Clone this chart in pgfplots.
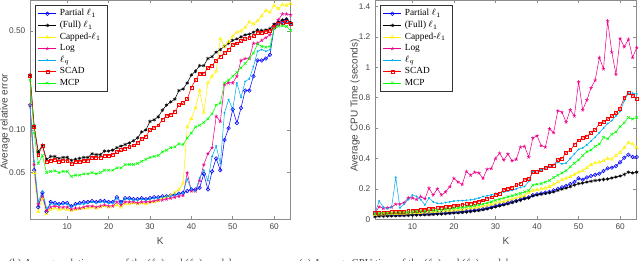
\documentclass[border=0pt]{standalone}
\usepackage{fontspec}
\setmainfont{Liberation Sans}
\newfontfamily\serif{Liberation Serif}
\usepackage{pgfplots}
\pgfplotsset{compat=1.18}
\usepackage{pgfplotstable}

\definecolor{axgray}{RGB}{140,140,140}
\definecolor{labgray}{RGB}{70,70,70}

\pgfplotstableread{
K p f c l q s m
1 0.150 0.245 0.150 0.150 0.150 0.240 0.225
2 0.052 0.107 0.050 0.057 0.060 0.105 0.095
3 0.0285 0.070 0.0265 0.030 0.031 0.067 0.058
4 0.036 0.078 0.033 0.034 0.037 0.077 0.066
5 0.0265 0.062 0.0255 0.027 0.028 0.060 0.050
6 0.031 0.065 0.0275 0.0285 0.030 0.061 0.051
7 0.0305 0.065 0.028 0.029 0.030 0.062 0.0515
8 0.030 0.063 0.0275 0.0285 0.0295 0.060 0.050
9 0.0305 0.064 0.0278 0.0285 0.030 0.061 0.051
10 0.0305 0.064 0.0275 0.0285 0.030 0.061 0.051
11 0.029 0.061 0.027 0.0275 0.0285 0.058 0.047
12 0.030 0.062 0.0275 0.028 0.0295 0.060 0.048
13 0.0305 0.063 0.0278 0.028 0.030 0.060 0.048
14 0.031 0.064 0.028 0.0285 0.030 0.061 0.049
15 0.031 0.064 0.028 0.029 0.0305 0.061 0.049
16 0.0315 0.068 0.0285 0.029 0.031 0.064 0.050
17 0.031 0.067 0.028 0.0285 0.0305 0.064 0.049
18 0.0315 0.067 0.0285 0.029 0.031 0.064 0.050
19 0.0315 0.071 0.029 0.0295 0.031 0.066 0.052
20 0.031 0.071 0.0285 0.029 0.0305 0.066 0.052
21 0.031 0.072 0.029 0.029 0.0305 0.067 0.052
22 0.0335 0.075 0.0295 0.031 0.033 0.070 0.054
23 0.031 0.077 0.0285 0.0295 0.0305 0.072 0.054
24 0.033 0.079 0.030 0.031 0.0325 0.074 0.057
25 0.033 0.081 0.030 0.031 0.0325 0.076 0.057
26 0.0325 0.084 0.0305 0.031 0.032 0.078 0.057
27 0.0325 0.088 0.030 0.0305 0.032 0.081 0.058
28 0.033 0.097 0.0305 0.031 0.0325 0.087 0.060
29 0.0325 0.100 0.030 0.031 0.032 0.090 0.062
30 0.033 0.115 0.031 0.031 0.0325 0.100 0.064
31 0.0335 0.118 0.031 0.0315 0.033 0.104 0.065
32 0.0335 0.124 0.0315 0.032 0.033 0.108 0.066
33 0.034 0.138 0.033 0.032 0.0335 0.118 0.070
34 0.034 0.150 0.0335 0.0325 0.034 0.126 0.072
35 0.0345 0.158 0.0345 0.033 0.034 0.128 0.075
36 0.035 0.165 0.036 0.0335 0.035 0.135 0.076
37 0.0355 0.190 0.038 0.034 0.0355 0.150 0.080
38 0.036 0.195 0.042 0.0345 0.036 0.155 0.079
39 0.037 0.215 0.105 0.050 0.045 0.165 0.088
40 0.038 0.245 0.120 0.037 0.038 0.200 0.095
41 0.038 0.260 0.143 0.037 0.037 0.225 0.105
42 0.039 0.285 0.190 0.044 0.046 0.250 0.108
43 0.049 0.285 0.133 0.057 0.052 0.250 0.113
44 0.038 0.320 0.215 0.068 0.044 0.275 0.120
45 0.051 0.330 0.240 0.075 0.065 0.285 0.130
46 0.063 0.355 0.260 0.125 0.077 0.310 0.150
47 0.052 0.370 0.440 0.115 0.058 0.330 0.155
48 0.085 0.390 0.390 0.210 0.132 0.350 0.215
49 0.103 0.410 0.420 0.215 0.164 0.370 0.225
50 0.140 0.430 0.460 0.215 0.140 0.400 0.240
51 0.112 0.440 0.490 0.240 0.215 0.410 0.255
52 0.143 0.455 0.500 0.310 0.170 0.425 0.275
53 0.190 0.470 0.530 0.320 0.220 0.440 0.295
54 0.190 0.475 0.580 0.320 0.230 0.450 0.320
55 0.240 0.490 0.560 0.410 0.280 0.460 0.350
56 0.310 0.510 0.590 0.410 0.360 0.490 0.405
57 0.310 0.505 0.640 0.430 0.370 0.490 0.390
58 0.320 0.510 0.700 0.450 0.360 0.495 0.385
59 0.340 0.520 0.680 0.470 0.370 0.500 0.390
60 0.530 0.560 0.760 0.540 0.520 0.540 0.520
61 0.560 0.580 0.720 0.600 0.560 0.560 0.540
62 0.580 0.600 0.770 0.660 0.580 0.575 0.545
63 0.600 0.610 0.760 0.660 0.570 0.580 0.540
64 0.570 0.570 0.780 0.650 0.550 0.560 0.505
}\errtab

\pgfplotstableread{
K p f c l q s m
1 0.025 0.018 0.030 0.040 0.040 0.040 0.035
2 0.027 0.020 0.033 0.083 0.120 0.043 0.038
3 0.027 0.020 0.034 0.072 0.080 0.045 0.039
4 0.028 0.021 0.035 0.075 0.070 0.046 0.040
5 0.028 0.022 0.036 0.080 0.080 0.047 0.041
6 0.029 0.023 0.037 0.100 0.275 0.048 0.042
7 0.030 0.024 0.038 0.100 0.075 0.050 0.044
8 0.030 0.025 0.039 0.110 0.100 0.052 0.045
9 0.031 0.026 0.040 0.140 0.130 0.054 0.047
10 0.032 0.027 0.042 0.140 0.160 0.056 0.048
11 0.033 0.028 0.043 0.130 0.150 0.058 0.050
12 0.034 0.029 0.044 0.150 0.130 0.061 0.052
13 0.035 0.030 0.046 0.135 0.095 0.064 0.054
14 0.036 0.031 0.047 0.205 0.140 0.067 0.056
15 0.037 0.032 0.049 0.160 0.115 0.070 0.058
16 0.039 0.034 0.051 0.200 0.105 0.073 0.060
17 0.040 0.035 0.053 0.160 0.105 0.076 0.063
18 0.042 0.037 0.055 0.180 0.110 0.080 0.066
19 0.044 0.039 0.058 0.215 0.115 0.084 0.069
20 0.046 0.041 0.060 0.270 0.120 0.088 0.072
21 0.048 0.043 0.062 0.245 0.122 0.092 0.075
22 0.050 0.045 0.065 0.230 0.123 0.096 0.078
23 0.053 0.048 0.068 0.315 0.125 0.100 0.082
24 0.056 0.051 0.072 0.290 0.128 0.105 0.086
25 0.060 0.055 0.076 0.310 0.132 0.110 0.090
26 0.063 0.058 0.080 0.305 0.140 0.118 0.095
27 0.068 0.063 0.086 0.270 0.150 0.125 0.100
28 0.073 0.068 0.092 0.330 0.155 0.135 0.108
29 0.080 0.075 0.098 0.335 0.160 0.145 0.115
30 0.088 0.082 0.105 0.400 0.170 0.160 0.125
31 0.095 0.088 0.112 0.435 0.175 0.170 0.132
32 0.100 0.095 0.118 0.390 0.180 0.195 0.140
33 0.108 0.102 0.125 0.430 0.185 0.200 0.148
34 0.115 0.110 0.132 0.385 0.190 0.210 0.155
35 0.122 0.118 0.140 0.395 0.200 0.225 0.163
36 0.130 0.125 0.148 0.475 0.210 0.235 0.170
37 0.140 0.135 0.155 0.480 0.215 0.260 0.180
38 0.145 0.140 0.175 0.410 0.250 0.265 0.190
39 0.158 0.155 0.190 0.535 0.315 0.310 0.225
40 0.165 0.160 0.195 0.550 0.320 0.310 0.230
41 0.170 0.165 0.200 0.485 0.325 0.325 0.235
42 0.175 0.170 0.205 0.475 0.335 0.340 0.245
43 0.180 0.175 0.215 0.595 0.345 0.350 0.255
44 0.190 0.180 0.230 0.570 0.360 0.355 0.275
45 0.200 0.190 0.245 0.715 0.375 0.390 0.290
46 0.210 0.198 0.260 0.705 0.365 0.400 0.305
47 0.220 0.205 0.270 0.640 0.370 0.440 0.320
48 0.232 0.215 0.280 0.720 0.400 0.455 0.345
49 0.245 0.225 0.295 0.680 0.430 0.490 0.370
50 0.270 0.235 0.310 0.905 0.460 0.520 0.390
51 0.260 0.238 0.320 0.720 0.470 0.535 0.420
52 0.275 0.245 0.340 0.785 0.490 0.545 0.445
53 0.285 0.250 0.360 0.865 0.515 0.570 0.455
54 0.293 0.255 0.370 0.915 0.540 0.590 0.480
55 0.300 0.258 0.375 1.065 0.570 0.630 0.495
56 0.318 0.262 0.385 0.990 0.600 0.640 0.540
57 0.335 0.265 0.400 1.305 0.630 0.660 0.530
58 0.340 0.272 0.395 1.100 0.650 0.680 0.560
59 0.350 0.278 0.420 0.955 0.680 0.700 0.575
60 0.375 0.285 0.440 1.190 0.710 0.730 0.610
61 0.405 0.295 0.470 1.135 0.780 0.800 0.635
62 0.425 0.310 0.505 1.185 0.830 0.830 0.670
63 0.410 0.305 0.495 1.065 0.830 0.815 0.660
64 0.410 0.310 0.470 1.130 0.825 0.795 0.670
}\cputab

\pgfplotsset{
  mystyle/.style={
    scale only axis,
    anchor=south west,
    width=195.5pt, height=164.5pt,
    xmin=1, xmax=64,
    xtick={10,20,30,40,50,60},
    axis line style={axgray, line width=0.5pt},
    tick style={axgray, line width=0.5pt},
    major tick length=2.6pt,
    tick align=inside,
    xtick pos=both, ytick pos=both,
    tick label style={font=\fontsize{6.2}{7}\selectfont, text=labgray},
    /pgf/number format/assume math mode=true,
    label style={font=\fontsize{7.5}{9}\selectfont, text=labgray},
    xlabel={K},
    xlabel style={at={(axis description cs:0.5,-0.101)}, anchor=center},
    legend cell align=left,
    legend style={at={(axis description cs:0.02,0.977)}, anchor=north west,
      font=\serif\fontsize{7}{8}\selectfont, draw=black!80, line width=0.4pt,
      inner xsep=2pt, inner ysep=1.2pt, row sep=-1.6pt, fill=white,
      nodes={inner xsep=2.5pt}},
    legend image code/.code={\draw[mark repeat=2,mark phase=2] plot coordinates {(0cm,0cm)(0.235cm,0cm)(0.47cm,0cm)};},
    every axis plot/.append style={line width=0.4pt, mark size=1.35pt},
    every mark/.append style={line width=0.3pt},
  },
  sP/.style={blue, mark=o},
  sF/.style={black, mark=asterisk},
  sC/.style={yellow, mark=triangle, every mark/.append style={rotate=-90}},
  sL/.style={magenta, mark=star},
  sQ/.style={cyan, mark=*, mark size=0.5pt},
  sS/.style={red, mark=square, mark size=1.1pt},
  sM/.style={green, mark=x},
}

\begin{document}
\begin{tikzpicture}
\useasboundingbox (0,0) rectangle (480pt,195.75pt);
\begin{axis}[mystyle, at={(22.5pt,31.3pt)},
  ymode=log, ymin=0.0234, ymax=0.83,
  ytick={0.05,0.1,0.5}, yticklabels={0.05,0.10,0.50},
  yminorticks=false,
  ylabel={Average relative error},
  ylabel style={at={(axis description cs:-0.096,0.444)}, anchor=center},
]
\addplot[sP] table[x=K,y=p]{\errtab};
\addplot[sF] table[x=K,y=f]{\errtab};
\addplot[sC] table[x=K,y=c]{\errtab};
\addplot[sL] table[x=K,y=l]{\errtab};
\addplot[sQ] table[x=K,y=q]{\errtab};
\addplot[sS] table[x=K,y=s]{\errtab};
\addplot[sM] table[x=K,y=m]{\errtab};
\legend{Partial $\ell_1$,(Full) $\ell_1$,Capped-$\ell_1$,Log,$\ell_q$,SCAD,MCP}
\end{axis}
\begin{axis}[mystyle, at={(281.25pt,31.3pt)}, width=196.3pt,
  ymin=0, ymax=1.444,
  ytick={0,0.2,0.4,0.6,0.8,1,1.2,1.4},
  yticklabels={0,0.2,0.4,0.6,0.8,1,1.2,1.4},
  ylabel={Average CPU Time (seconds)},
  ylabel style={at={(axis description cs:-0.0764,0.519)}, anchor=center},
]
\addplot[sP] table[x=K,y=p]{\cputab};
\addplot[sF] table[x=K,y=f]{\cputab};
\addplot[sC] table[x=K,y=c]{\cputab};
\addplot[sL] table[x=K,y=l]{\cputab};
\addplot[sQ] table[x=K,y=q]{\cputab};
\addplot[sS] table[x=K,y=s]{\cputab};
\addplot[sM] table[x=K,y=m]{\cputab};
\legend{Partial $\ell_1$,(Full) $\ell_1$,Capped-$\ell_1$,Log,$\ell_q$,SCAD,MCP}
\end{axis}
\begin{scope}
\clip (0,0) rectangle (480pt,195.75pt);
\node[anchor=base, font=\serif\fontsize{8}{9}\selectfont, text=labgray] at (91.9pt,-4pt) {(b) Average relative error of the ($\ell_1$) and ($\ell_q$) models};
\node[anchor=base, font=\serif\fontsize{8}{9}\selectfont, text=labgray] at (304.5pt,-4pt) {(c) Average CPU time of the ($\ell_1$) and ($\ell_q$) models};
\end{scope}
\end{tikzpicture}
\end{document}
